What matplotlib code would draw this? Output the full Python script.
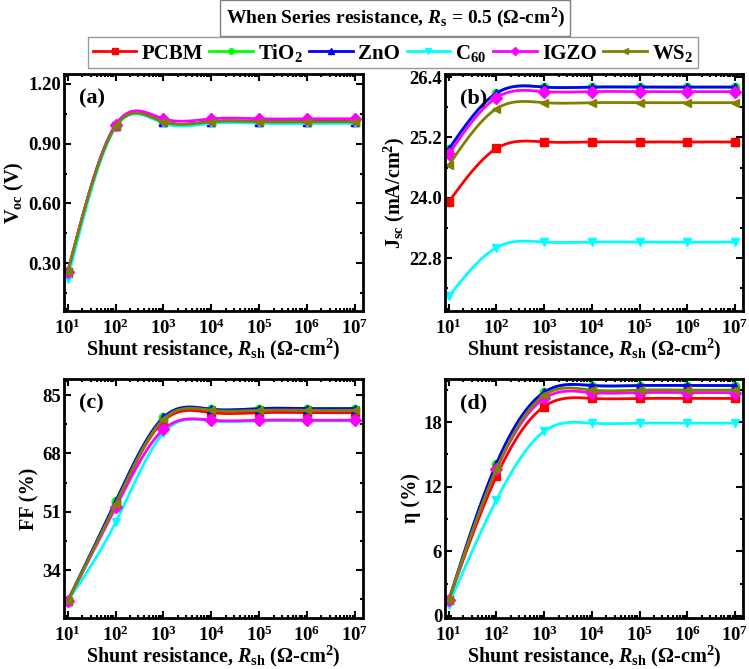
import numpy as np
import matplotlib
matplotlib.use("Agg")
import matplotlib.pyplot as plt
from matplotlib.lines import Line2D
from matplotlib.ticker import AutoMinorLocator, LogLocator, FixedLocator

plt.rcParams['font.family'] = ['Liberation Serif', 'DejaVu Serif']
plt.rcParams['font.weight'] = 'bold'
plt.rcParams['axes.labelweight'] = 'bold'
plt.rcParams['mathtext.fontset'] = 'custom'
plt.rcParams['mathtext.rm'] = 'Liberation Serif:bold'
plt.rcParams['mathtext.bf'] = 'Liberation Serif:bold'
plt.rcParams['mathtext.it'] = 'Liberation Serif:bold:italic'

# shunt resistance (ohm cm2)
rsh = [1e1, 1e2, 1e3, 1e4, 1e5, 1e6, 1e7]

names = ['PCBM', 'TiO$_2$', 'ZnO', 'C$_{60}$', 'IGZO', 'WS$_2$']
colors = ['#ff0000', '#00ff00', '#0000ff', '#00ffff', '#ff00ff', '#808000']
markers = ['s', 'o', '^', 'v', 'D', '<']

# Voc (V)
voc_pcbm = [0.255, 0.990, 1.010, 1.010, 1.010, 1.010, 1.010]
voc_tio2 = [0.250, 0.990, 1.010, 1.010, 1.010, 1.010, 1.010]
voc_zno = [0.250, 0.990, 1.010, 1.010, 1.010, 1.010, 1.010]
voc_c60 = [0.221, 0.982, 1.002, 1.002, 1.002, 1.002, 1.002]
voc_igzo = [0.258, 0.995, 1.025, 1.025, 1.025, 1.025, 1.025]
voc_ws2 = [0.258, 0.987, 1.010, 1.010, 1.010, 1.010, 1.010]

# Jsc (mA/cm2)
jsc_pcbm = [23.92, 24.98, 25.11, 25.11, 25.11, 25.11, 25.11]
jsc_tio2 = [24.96, 26.08, 26.20, 26.20, 26.20, 26.20, 26.20]
jsc_zno = [24.97, 26.08, 26.20, 26.20, 26.20, 26.20, 26.20]
jsc_c60 = [22.04, 23.01, 23.12, 23.12, 23.12, 23.12, 23.12]
jsc_igzo = [24.87, 25.99, 26.11, 26.11, 26.11, 26.11, 26.11]
jsc_ws2 = [24.65, 25.77, 25.89, 25.89, 25.89, 25.89, 25.89]

# FF (%)
ff_pcbm = [25.0, 53.3, 77.5, 79.9, 79.9, 79.9, 79.9]
ff_tio2 = [25.0, 54.0, 78.5, 80.9, 81.1, 81.1, 81.1]
ff_zno = [25.0, 54.0, 78.5, 80.9, 81.1, 81.1, 81.1]
ff_c60 = [25.0, 47.9, 74.0, 77.5, 77.5, 77.5, 77.5]
ff_igzo = [25.0, 52.3, 75.0, 77.7, 77.7, 77.7, 77.7]
ff_ws2 = [25.0, 53.3, 78.0, 80.6, 80.6, 80.6, 80.6]

# efficiency (%)
eta_pcbm = [1.45, 12.98, 19.45, 20.20, 20.20, 20.20, 20.20]
eta_tio2 = [1.45, 14.15, 20.77, 21.40, 21.40, 21.40, 21.40]
eta_zno = [1.45, 14.15, 20.77, 21.40, 21.40, 21.40, 21.40]
eta_c60 = [1.05, 10.77, 17.14, 17.90, 17.90, 17.90, 17.90]
eta_igzo = [1.45, 13.60, 20.20, 20.74, 20.74, 20.74, 20.74]
eta_ws2 = [1.45, 13.66, 20.50, 20.98, 20.98, 20.98, 20.98]

panels = [
    ([voc_pcbm, voc_tio2, voc_zno, voc_c60, voc_igzo, voc_ws2], 'V$_{\\mathrm{oc}}$ (V)', '(a)',
     (0.06, 1.25), [0.30, 0.60, 0.90, 1.20], '%.2f'),
    ([jsc_pcbm, jsc_tio2, jsc_zno, jsc_c60, jsc_igzo, jsc_ws2], 'J$_{\\mathrm{sc}}$ (mA/cm$^{2}$)', '(b)',
     (21.75, 26.46), [22.8, 24.0, 25.2, 26.4], '%.1f'),
    ([ff_pcbm, ff_tio2, ff_zno, ff_c60, ff_igzo, ff_ws2], 'FF (%)', '(c)',
     (20, 89.7), [34, 51, 68, 85], '%d'),
    ([eta_pcbm, eta_tio2, eta_zno, eta_c60, eta_igzo, eta_ws2], 'η (%)', '(d)',
     (-0.2, 22), [0, 6, 12, 18], '%d'),
]

positions = [
    [0.0854, 0.5351, 0.3992, 0.3543],
    [0.5941, 0.5351, 0.3979, 0.3543],
    [0.0854, 0.0762, 0.3992, 0.3572],
    [0.5941, 0.0762, 0.3979, 0.3572],
]


def spline(x, y, n=300):
    # natural cubic spline, like Origin's spline connection
    x = np.asarray(x, float)
    y = np.asarray(y, float)
    h = np.diff(x)
    nn = len(x)
    A = np.zeros((nn, nn))
    r = np.zeros(nn)
    A[0, 0] = A[-1, -1] = 1
    for i in range(1, nn - 1):
        A[i, i - 1] = h[i - 1]
        A[i, i] = 2 * (h[i - 1] + h[i])
        A[i, i + 1] = h[i]
        r[i] = 3 * ((y[i + 1] - y[i]) / h[i] - (y[i] - y[i - 1]) / h[i - 1])
    c = np.linalg.solve(A, r)
    b = (y[1:] - y[:-1]) / h - h * (2 * c[:-1] + c[1:]) / 3
    d = (c[1:] - c[:-1]) / (3 * h)
    xs = np.linspace(x[0], x[-1], n)
    i = np.clip(np.searchsorted(x, xs) - 1, 0, nn - 2)
    dx = xs - x[i]
    return xs, y[i] + b[i] * dx + c[i] * dx ** 2 + d[i] * dx ** 3


fig = plt.figure(figsize=(7.49, 6.69), dpi=100)
lx = np.log10(rsh)

for k, (series, ylab, tag, ylim, yt, fmt) in enumerate(panels):
    ax = fig.add_axes(positions[k])
    for s, col, mk in zip(series, colors, markers):
        xs, ys = spline(lx, s)
        ax.plot(10 ** xs, ys, color=col, lw=2)
        ax.plot(rsh, s, ls='none', marker=mk, color=col, ms=6)
    ax.set_xscale('log')
    ax.set_xlim(10 ** 0.92, 10 ** 7.17)
    ax.set_ylim(*ylim)
    ax.xaxis.set_major_locator(FixedLocator(rsh))
    ax.xaxis.set_minor_locator(LogLocator(base=10, subs=np.arange(2, 10), numticks=20))
    ax.set_yticks(yt)
    ax.set_yticklabels([fmt % v for v in yt])
    ax.yaxis.set_minor_locator(AutoMinorLocator(2))
    ax.tick_params(which='both', direction='in', top=True, right=True, width=1.5,
                   labelsize=13.5)
    ax.tick_params(axis='y', pad=2)
    ax.tick_params(axis='x', pad=5.5)
    ax.tick_params(which='major', length=5)
    ax.tick_params(which='minor', length=2.5)
    for sp in ax.spines.values():
        sp.set_linewidth(2)
    ax.set_ylabel(ylab, fontsize=14.5, fontweight='bold', labelpad=2)
    ax.set_xlabel('Shunt resistance, $R_{\\mathrm{sh}}$ (Ω-cm$^{2}$)', fontsize=14.5,
                  fontweight='bold', labelpad=-1)
    ax.text(0.05, 0.94, tag, transform=ax.transAxes, fontsize=16, fontweight='bold',
            va='top', ha='left')

fig.text(0.5274, 0.973, 'When Series resistance, $R_{\\mathrm{s}}$ = 0.5 (Ω-cm$^{2}$)',
         ha='center', va='center', fontsize=14, fontweight='bold',
         bbox=dict(boxstyle='square,pad=0.3', fc='white', ec='#808080', lw=1))

handles = [Line2D([], [], color=c, marker=m, lw=2, ms=4) for c, m in zip(colors, markers)]
fig.legend(handles, names, loc='center', bbox_to_anchor=(0.5247, 0.9215), ncol=6,
           frameon=True, fancybox=False, edgecolor='#808080',
           handlelength=2.1, handletextpad=0.25, columnspacing=0.3, borderpad=0.2,
           borderaxespad=0, numpoints=1, prop={'weight': 'bold', 'size': 15})

fig.savefig('out.png', dpi=100)
